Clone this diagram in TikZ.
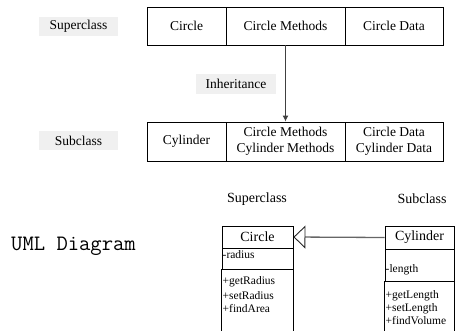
\documentclass[tikz,border=0pt]{standalone}
\usepackage{fontspec}
\setmainfont{Liberation Serif}
\usetikzlibrary{arrows.meta}
\begin{document}
\begin{tikzpicture}[x=1pt,y=-1pt,
  cell/.style={draw=black, line width=0.9pt, minimum height=38pt, inner sep=1pt, align=center,
    font=\fontsize{13.5}{15.5}\selectfont},
  lbl/.style={fill=black!6, minimum width=79pt, minimum height=19pt, inner sep=1pt,
    font=\fontsize{13.5}{15.5}\selectfont},
  hdr/.style={font=\fontsize{14}{16}\selectfont},
  ubox/.style={draw=black, line width=0.8pt, inner sep=0pt},
  utxt/.style={anchor=west, inner sep=0.5pt, font=\fontsize{11.5}{13}\selectfont},
  conn/.style={draw=black!75, line width=1pt, -{Latex[length=6pt,width=6pt]}},
  uconn/.style={draw=black!60, line width=1.3pt, -{Triangle[open,length=12pt,width=23pt,line width=0.9pt,color=black!85]}}
]
\useasboundingbox (0,0) rectangle (455,330);

% top row: superclass
\node[lbl] (sup) at (78.5,26.5) {Superclass};
\node[cell, minimum width=79pt] (c1) at (186.5,26) {Circle};
\node[cell, minimum width=119pt] (c2) at (285.5,26) {Circle Methods};
\node[cell, minimum width=98pt] (c3) at (394,26) {Circle Data};

% inheritance
\node[lbl, minimum width=80pt, minimum height=20pt] (inh) at (236,84) {Inheritance};

% bottom row: subclass
\node[lbl] (sub) at (78.5,140.5) {Subclass};
\node[cell, minimum width=79pt, minimum height=39pt] (d1) at (186.5,141.5) {Cylinder};
\node[cell, minimum width=119pt, minimum height=39pt] (d2) at (285.5,141.5) {Circle Methods\\Cylinder Methods};
\node[cell, minimum width=98pt, minimum height=39pt] (d3) at (394,141.5) {Circle Data\\Cylinder Data};

\draw[conn] (c2.south) -- (d2.north);

% UML part
\node[font=\fontsize{22}{24}\ttfamily] (uml) at (73.5,246) {UML Diagram};
\node[hdr] (usup) at (257,199) {Superclass};
\node[hdr] (usub) at (422,199) {Subclass};

% Circle class
\node[ubox, minimum width=71pt, minimum height=22pt, hdr] (uh1) at (257.5,237) {Circle};
\node[ubox, minimum width=71pt, minimum height=21pt] (ua1) at (257.5,258.5) {};
\coordinate (bot) at (0,331);
\draw[line width=0.8pt] (ua1.south west) -- (ua1.south west |- bot);
\draw[line width=0.8pt] (ua1.south east) -- (ua1.south east |- bot);
\node[utxt] (r1) at (222,255) {-radius};
\node[utxt] (m1) at (222,282) {+getRadius};
\node[utxt] (m2) at (222,295.5) {+setRadius};
\node[utxt] (m3) at (222,309) {+findArea};

% Cylinder class
\node[ubox, minimum width=69pt, minimum height=23pt, hdr] (vh1) at (419.5,237.5) {Cylinder};
\node[ubox, minimum width=69pt, minimum height=32pt] (va1) at (419.5,265) {};
\draw[line width=0.8pt] (va1.south west) -- (va1.south west |- bot);
\draw[line width=0.8pt] (va1.south east) -- (va1.south east |- bot);
\node[utxt] (l1) at (385,269.5) {-length};
\node[utxt] (n1) at (385,296) {+getLength};
\node[utxt] (n2) at (385,308.5) {+setLength};
\node[utxt] (n3) at (385,321) {+findVolume};

\draw[uconn] (vh1.west) -- (uh1.east);
\end{tikzpicture}
\end{document}
